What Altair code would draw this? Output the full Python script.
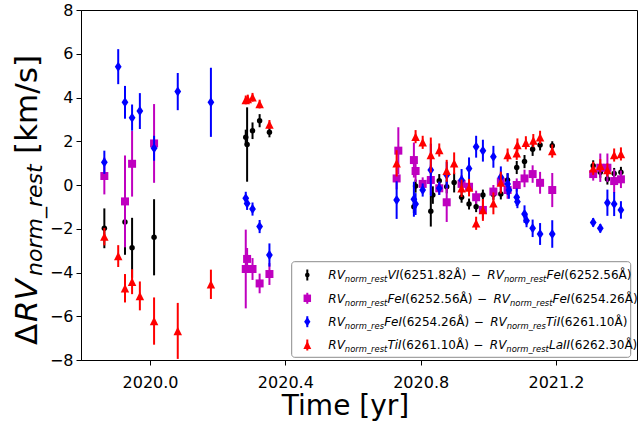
import altair as alt
import pandas as pd

# ---------------- data ----------------
t_vi = [2019.865, 2019.926, 2019.947, 2020.012, 2020.283, 2020.287, 2020.303, 2020.324, 2020.353,
        2020.780, 2020.785, 2020.830, 2020.836, 2020.855, 2020.877, 2020.899, 2020.921, 2020.943,
        2020.964, 2020.984, 2021.015, 2021.037, 2021.057, 2021.084, 2021.107, 2021.131, 2021.153,
        2021.189, 2021.310, 2021.331, 2021.352, 2021.372, 2021.392]
v_vi = [-1.98, -1.69, -2.87, -2.39, 2.18, 1.85, 2.48, 2.94, 2.41,
        -0.99, -0.05, -1.2, -0.46, 0.2, -0.08, 0.11, -0.56, -0.87,
        -0.99, -0.46, -0.43, -0.41, 0.23, 0.8, 1.07, 1.63, 1.83,
        1.8, 0.88, 0.58, 0.27, 0.53, 0.58]
e_vi = [0.91, 1.5, 1.37, 1.74, 0.35, 1.7, 0.38, 0.3, 0.23,
        0.3, 0.3, 0.7, 0.4, 0.3, 0.3, 0.45, 0.25, 0.25,
        0.25, 0.25, 0.25, 0.25, 0.3, 0.3, 0.3, 0.3, 0.25,
        0.2, 0.25, 0.25, 0.25, 0.25, 0.25]

t_fe = [2019.865, 2019.926, 2019.947, 2020.012, 2020.283, 2020.287, 2020.303, 2020.324, 2020.353,
        2020.729, 2020.734, 2020.780, 2020.785, 2020.806, 2020.830, 2020.855, 2020.877, 2020.921,
        2020.943, 2020.964, 2020.984, 2021.015, 2021.037, 2021.057, 2021.084, 2021.107, 2021.131,
        2021.153, 2021.189, 2021.310, 2021.331, 2021.352, 2021.372, 2021.392]
v_fe = [0.41, -0.75, 0.97, 1.9, -3.84, -3.38, -3.84, -4.5, -4.07,
        0.3, 1.57, 1.14, 0.64, 0.05, 0.23, -0.15, -0.79, 0.05,
        -0.08, -0.56, -1.14, -0.3, 0.15, -0.23, 0.0, 0.3, 0.5,
        0.1, -0.23, 0.5, 0.79, 0.79, 0.18, 0.26]
e_fe = [0.84, 2.1, 1.5, 1.8, 1.8, 0.5, 0.5, 0.45, 0.5,
        0.5, 1.07, 0.8, 0.5, 0.3, 0.7, 0.3, 0.9, 0.4,
        0.3, 0.3, 0.4, 0.3, 0.4, 0.4, 0.3, 0.4, 0.4,
        0.5, 0.78, 0.3, 0.65, 0.65, 0.53, 0.4]

t_ti = [2019.865, 2019.906, 2019.926, 2019.947, 2019.970, 2020.012, 2020.082, 2020.180,
        2020.283, 2020.287, 2020.303, 2020.324, 2020.353,
        2020.729, 2020.780, 2020.785, 2020.806, 2020.830, 2020.855, 2020.877, 2020.921, 2020.943,
        2020.964, 2020.984, 2021.015, 2021.037, 2021.057, 2021.061, 2021.084, 2021.086, 2021.107,
        2021.113, 2021.131, 2021.153, 2021.189, 2021.310, 2021.331, 2021.352, 2021.372, 2021.392]
v_ti = [1.04, 5.41, 3.78, 3.08, 3.38, 1.68, 4.27, 3.78,
        -0.61, -0.84, -1.1, -1.9, -3.2,
        -0.69, -0.65, -0.87, -0.23, 0.69, -0.15, 0.46, 0.23, 0.76,
        1.75, 1.57, 1.29, 0.35, 0.05, -0.23, -0.56, -0.76, -1.33,
        -1.63, -1.98, -2.24, -2.24, -1.71, -1.98, -0.81, -0.87, -1.14]
e_ti = [0.53, 0.8, 0.75, 0.6, 0.82, 0.57, 0.85, 1.58,
        0.3, 0.3, 0.3, 0.3, 0.53,
        0.86, 0.8, 0.5, 0.3, 1.2, 0.3, 0.6, 0.5, 0.5,
        0.5, 0.5, 0.5, 0.5, 0.5, 0.4, 0.4, 0.3, 0.4,
        0.3, 0.4, 0.5, 0.63, 0.2, 0.2, 0.6, 0.55, 0.4]

t_la = [2019.865, 2019.906, 2019.926, 2019.947, 2019.970, 2020.012, 2020.082, 2020.180,
        2020.283, 2020.289, 2020.303, 2020.324, 2020.353,
        2020.729, 2020.785, 2020.806, 2020.830, 2020.855, 2020.877, 2020.899, 2020.921, 2020.943,
        2020.964, 2020.984, 2021.015, 2021.037, 2021.057, 2021.084, 2021.086, 2021.111, 2021.133,
        2021.153, 2021.189, 2021.310, 2021.331, 2021.352, 2021.372, 2021.392]
v_la = [-2.36, -3.25, -4.72, -4.42, -5.07, -6.22, -6.67, -4.54,
        3.89, 3.93, 4.01, 3.7, 2.77,
        0.99, 2.21, 1.95, 1.37, 1.6, 0.65, 0.99, -0.15, -0.12,
        -1.75, -1.14, -0.84, 0.11, 1.37, 1.45, 1.83, 1.93, 2.03,
        2.18, 1.55, 0.76, 0.88, 0.69, 1.37, 1.42]
e_la = [0.4, 0.5, 0.65, 0.57, 0.66, 1.08, 1.28, 0.67,
        0.2, 0.2, 0.2, 0.2, 0.2,
        0.6, 0.3, 0.3, 0.8, 0.3, 0.5, 0.5, 0.4, 0.4,
        0.3, 0.5, 0.5, 0.5, 0.3, 0.3, 0.3, 0.3, 0.3,
        0.3, 0.3, 0.3, 0.3, 0.3, 0.3, 0.3]

x_ticks = [2020.0, 2020.4, 2020.8, 2021.2]
y_ticks = [-8, -6, -4, -2, 0, 2, 4, 6, 8]

legend_rows = [
    [("RV", "it"), ("norm_rest", "sub"), ("VI", "it"), ("(6251.82Å)", "rm"), ("−", "op"),
     ("RV", "it"), ("norm_rest", "sub"), ("FeI", "it"), ("(6252.56Å)", "rm")],
    [("RV", "it"), ("norm_rest", "sub"), ("FeI", "it"), ("(6252.56Å)", "rm"), ("−", "op"),
     ("RV", "it"), ("norm_rest", "sub"), ("FeI", "it"), ("(6254.26Å)", "rm")],
    [("RV", "it"), ("norm_res", "sub"), ("FeI", "it"), ("(6254.26Å)", "rm"), ("−", "op"),
     ("RV", "it"), ("norm_res", "sub"), ("TiI", "it"), ("(6261.10Å)", "rm")],
    [("RV", "it"), ("norm_rest", "sub"), ("TiI", "it"), ("(6261.10Å)", "rm"), ("−", "op"),
     ("RV", "it"), ("norm_rest", "sub"), ("LaII", "it"), ("(6262.30Å)", "rm")],
]

# ---------------- layout ----------------
XMIN, XMAX = 2019.796, 2021.4395
YMIN, YMAX = -8, 8
W, H = 556, 350
LEFT, TOP = 81, 10


def dx(px):
    return XMIN + (px - LEFT) / W * (XMAX - XMIN)


def dy(py):
    return YMAX - (py - TOP) / H * (YMAX - YMIN)


FONT = "DejaVu Sans"
xs = alt.Scale(domain=[XMIN, XMAX], nice=False, zero=False)
ys = alt.Scale(domain=[YMIN, YMAX], nice=False, zero=False)
x_axis = alt.Axis(values=x_ticks, format=".1f", title="Time [yr]", titleFontSize=28,
                  titleFontWeight="normal", titleFont=FONT, titleX=264, titleY=54.5,
                  titleBaseline="alphabetic", titleAlign="center", titleColor="black",
                  labelFontSize=16, labelFont=FONT, labelColor="black", labelPadding=9,
                  labelFlush=False, labelOverlap=False, tickSize=5, tickColor="black",
                  domainColor="black", grid=False)
y_axis = alt.Axis(values=y_ticks, format="d", title=None, labelFontSize=16, labelFont=FONT,
                  labelColor="black", labelPadding=3, labelFlush=False, labelOverlap=False,
                  tickSize=5, tickColor="black", domainColor="black", grid=False)

series = [
    (t_vi, v_vi, e_vi, "black", "circle", 30),
    (t_fe, v_fe, e_fe, "#bf00bf", "square", 64),
    (t_ti, v_ti, e_ti, "#0000ff", "M0,-1L0.68,0L0,1L-0.68,0Z", 100),
    (t_la, v_la, e_la, "#ff0000", "M0,-1L1,1L-1,1Z", 72),
]

layers = []
for t, v, e, col, shp, sz in series:
    df = pd.DataFrame({"t": t, "v": v, "e": e})
    df["lo"] = df["v"] - df["e"]
    df["hi"] = df["v"] + df["e"]
    base = alt.Chart(df)
    layers.append(base.mark_rule(color=col, strokeWidth=2).encode(
        x=alt.X("t:Q", scale=xs, axis=x_axis),
        y=alt.Y("lo:Q", scale=ys, axis=y_axis),
        y2="hi:Q"))
    layers.append(base.mark_point(filled=True, shape=shp, size=sz, color=col, opacity=1,
                                  strokeWidth=0).encode(
        x=alt.X("t:Q", scale=xs, axis=x_axis),
        y=alt.Y("v:Q", scale=ys, axis=y_axis)))

# ---------------- legend (drawn in data coordinates) ----------------
box = pd.DataFrame({"x": [dx(291.7)], "x2": [dx(630.7)], "y": [dy(261.7)], "y2": [dy(357.3)]})
layers.append(alt.Chart(box).mark_rect(fill="white", fillOpacity=0.85, stroke="#8c8c8c",
                                       strokeWidth=1, cornerRadius=3).encode(
    x=alt.X("x:Q", scale=xs, axis=x_axis), x2="x2:Q",
    y=alt.Y("y:Q", scale=ys, axis=y_axis), y2="y2:Q"))

row_centers = [275.0, 298.3, 321.7, 345.0]
leg_sizes = [22, 56, 85, 62]
for (t, v, e, col, shp, sz), rc, lsz in zip(series, row_centers, leg_sizes):
    d = pd.DataFrame({"x": [dx(307.3)], "y": [dy(rc)], "lo": [dy(rc + 5.5)], "hi": [dy(rc - 5.5)]})
    layers.append(alt.Chart(d).mark_rule(color=col, strokeWidth=2).encode(
        x=alt.X("x:Q", scale=xs, axis=x_axis), y=alt.Y("lo:Q", scale=ys, axis=y_axis), y2="hi:Q"))
    layers.append(alt.Chart(d).mark_point(filled=True, shape=shp, size=lsz, color=col, opacity=1,
                                          strokeWidth=0).encode(
        x=alt.X("x:Q", scale=xs, axis=x_axis), y=alt.Y("y:Q", scale=ys, axis=y_axis)))

# DejaVu Sans advance widths (em)
ADV = {" ": .318, "(": .390, ")": .390, ".": .318, "−": .838, "Å": .684, "R": .695, "V": .684,
       "I": .295, "F": .575, "e": .615, "T": .611, "i": .278, "L": .557, "a": .613, "n": .634,
       "o": .612, "r": .411, "m": .974, "_": .5, "s": .521, "t": .392}
for ch in "0123456789":
    ADV[ch] = .636

LF, SF = 12.0, 8.4
pieces = {"it": [], "rm": [], "sub": []}
for row, rc in zip(legend_rows, row_centers):
    px = 328.3
    for txt, kind in row:
        if kind == "op":
            pieces["rm"].append({"x": dx(px + 4.5), "y": dy(rc + 4.4), "txt": txt})
            px += 21.0
            continue
        size = SF if kind == "sub" else LF
        base_y = rc + 4.4 + (2.8 if kind == "sub" else 0)
        pieces[kind].append({"x": dx(px), "y": dy(base_y), "txt": txt})
        px += sum(ADV.get(c, .6) for c in txt) * size

for kind, size, style in [("it", LF, "italic"), ("rm", LF, "normal"), ("sub", SF, "italic")]:
    layers.append(alt.Chart(pd.DataFrame(pieces[kind])).mark_text(
        align="left", baseline="alphabetic", font=FONT, fontSize=size, fontStyle=style,
        color="black").encode(
        x=alt.X("x:Q", scale=xs, axis=x_axis), y=alt.Y("y:Q", scale=ys, axis=y_axis),
        text="txt:N"))

# ---------------- y-axis title with subscript (rotated text) ----------------
one = pd.DataFrame({"a": [0]})
YF, YS = 31, 22
y_title = [("Δ", YF, "normal", "left", 36.5, 345.0),
           ("RV", YF, "italic", "left", 36.5, 322.0),
           ("norm_rest", YS, "italic", "left", 41.5, 276.0),
           ("[km/s]", YF, "normal", "right", 36.5, 55.0)]
for txt, fs, style, al, bx, by in y_title:
    layers.append(alt.Chart(one).mark_text(
        angle=270, align=al, baseline="alphabetic", font=FONT, fontSize=fs,
        fontStyle=style, color="black").encode(
        x=alt.value(bx - LEFT), y=alt.value(by - TOP), text=alt.value(txt)))

chart = alt.layer(*layers).properties(
    width=W, height=H, autosize="none",
    padding={"left": LEFT, "top": TOP, "right": 638 - LEFT - W, "bottom": 427 - TOP - H},
).configure_view(stroke="black", strokeWidth=1).configure_axis(
    domainWidth=1, tickWidth=1)

chart.save("out.html", embed_options={"renderer": "svg", "actions": False})
